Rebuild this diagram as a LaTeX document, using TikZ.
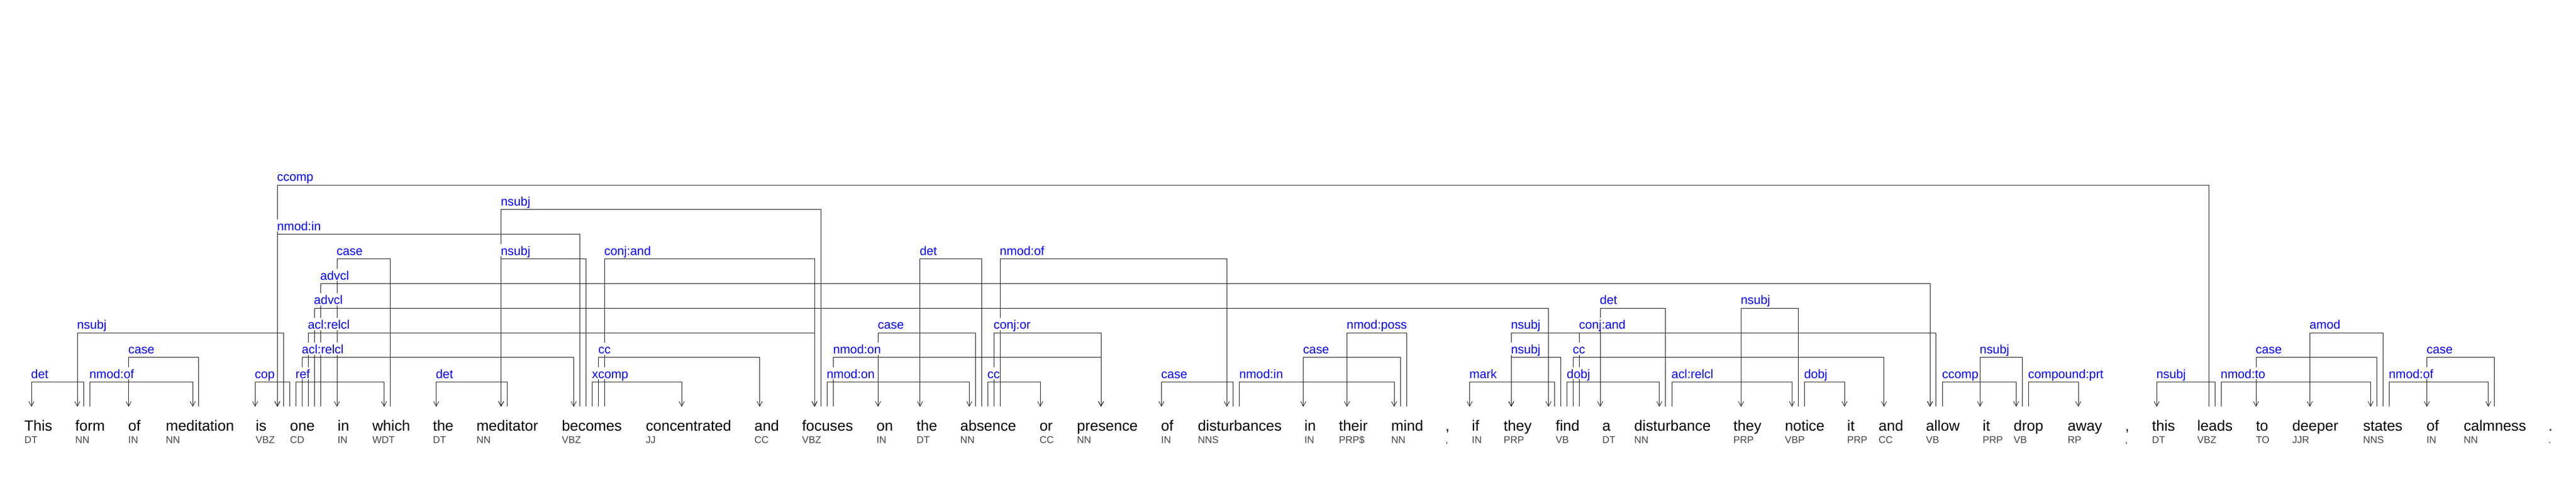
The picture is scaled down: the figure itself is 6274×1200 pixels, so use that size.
\documentclass[tikz,border=0pt]{standalone}
\usepackage{fontspec}
\setmainfont{Liberation Sans}
\usetikzlibrary{arrows.meta}
\pgfdeclarelayer{lbl}
\pgfsetlayers{main,lbl}
\definecolor{posgray}{RGB}{68,68,68}
\definecolor{labblue}{RGB}{0,0,255}
\newcounter{labc}
\tikzset{
  dep/.style={draw=black, line width=0.5pt, -{Straight Barb[length=6pt,width=6.5pt]}},
  lab/.style={anchor=base west, inner xsep=0.5pt, inner ysep=0pt, fill=white, text=labblue,
              text height=13.5pt, text depth=1.25pt, font=\fontsize{15pt}{15pt}\selectfont},
  word/.style={anchor=base west, inner sep=0pt, text=black, font=\fontsize{18pt}{18pt}\selectfont},
  postag/.style={anchor=base west, inner sep=0pt, text=posgray, font=\fontsize{12pt}{12pt}\selectfont}
}
% left point = dependent (arrow at left)
\newcommand\depL[4]{%
  \draw[dep] (#2) |- (#1 |- #3) -- (#1);%
  \stepcounter{labc}%
  \begin{pgfonlayer}{lbl}\path (#1 |- #3) ++(-2,-9) node[lab] (lab\arabic{labc}) {#4};\end{pgfonlayer}}
% left point = head (arrow at right)
\newcommand\depR[4]{%
  \draw[dep] (#1) |- (#2 |- #3) -- (#2);%
  \stepcounter{labc}%
  \begin{pgfonlayer}{lbl}\path (#1 |- #3) ++(-2,-9) node[lab] (lab\arabic{labc}) {#4};\end{pgfonlayer}}
\newcommand\ep[2]{\coordinate (#1) at (#2,990.5);}
\newcommand\wrd[4]{\node[word] (w#1) at (#2,1050) {#3}; \node[postag] (p#1) at (#2,1080) {#4};}
\begin{document}
\begin{tikzpicture}[x=0.5pt,y=-0.5pt]
\fill[white] (0,0) rectangle (6274,1200);
\useasboundingbox (0,0) rectangle (6274,1200);
% levels
\coordinate (L1) at (0,930.5);
\coordinate (L2) at (0,870.5);
\coordinate (L3) at (0,810.5);
\coordinate (L4) at (0,750.5);
\coordinate (L5) at (0,690.5);
\coordinate (L6) at (0,630.5);
\coordinate (L7) at (0,570.5);
\coordinate (L8) at (0,510.5);
\coordinate (L9) at (0,450.5);
% words
\wrd{1}{59}{This}{DT}
\wrd{2}{183}{form}{NN}
\wrd{3}{312}{of}{IN}
\wrd{4}{403.5}{meditation}{NN}
\wrd{5}{622.5}{is}{VBZ}
\wrd{6}{706}{one}{CD}
\wrd{7}{822}{in}{IN}
\wrd{8}{906.5}{which}{WDT}
\wrd{9}{1054}{the}{DT}
\wrd{10}{1160}{meditator}{NN}
\wrd{11}{1368}{becomes}{VBZ}
\wrd{12}{1572.5}{concentrated}{JJ}
\wrd{13}{1837}{and}{CC}
\wrd{14}{1953}{focuses}{VBZ}
\wrd{15}{2134.5}{on}{IN}
\wrd{16}{2232}{the}{DT}
\wrd{17}{2338.5}{absence}{NN}
\wrd{18}{2531.5}{or}{CC}
\wrd{19}{2622.5}{presence}{NN}
\wrd{20}{2827.5}{of}{IN}
\wrd{21}{2917}{disturbances}{NNS}
\wrd{22}{3176.5}{in}{IN}
\wrd{23}{3260.5}{their}{PRP\$}
\wrd{24}{3388}{mind}{NN}
\wrd{25}{3520}{,}{,}
\wrd{26}{3584.5}{if}{IN}
\wrd{27}{3662}{they}{PRP}
\wrd{28}{3788.5}{find}{VB}
\wrd{29}{3902}{a}{DT}
\wrd{30}{3980}{disturbance}{NN}
\wrd{31}{4221.5}{they}{PRP}
\wrd{32}{4347}{notice}{VBP}
\wrd{33}{4498.5}{it}{PRP}
\wrd{34}{4575}{and}{CC}
\wrd{35}{4690.5}{allow}{VB}
\wrd{36}{4828.5}{it}{PRP}
\wrd{37}{4904}{drop}{VB}
\wrd{38}{5035.5}{away}{RP}
\wrd{39}{5175.5}{,}{,}
\wrd{40}{5241}{this}{DT}
\wrd{41}{5351}{leads}{VBZ}
\wrd{42}{5494}{to}{TO}
\wrd{43}{5582.5}{deeper}{JJR}
\wrd{44}{5755}{states}{NNS}
\wrd{45}{5909.5}{of}{IN}
\wrd{46}{6000}{calmness}{NN}
\wrd{47}{6206.5}{.}{.}
% endpoints
\ep{e1a}{76.5}
\ep{e2a}{188.3}\ep{e2b}{203.6}\ep{e2c}{218.4}
\ep{e3a}{313.3}
\ep{e4a}{469.4}\ep{e4b}{484.2}
\ep{e5a}{621.4}
\ep{e6a}{675.5}\ep{e6b}{690.3}\ep{e6c}{705.6}\ep{e6d}{720.4}\ep{e6e}{735.7}\ep{e6f}{750.5}\ep{e6g}{765.3}\ep{e6h}{780.6}
\ep{e7a}{820.6}
\ep{e8a}{935.5}\ep{e8b}{950.1}
\ep{e9a}{1062.4}
\ep{e10a}{1220.5}\ep{e10b}{1235.2}
\ep{e11a}{1397.2}\ep{e11b}{1411.9}\ep{e11c}{1427.2}\ep{e11d}{1442.5}\ep{e11e}{1457.8}\ep{e11f}{1472.4}
\ep{e12a}{1660.3}
\ep{e13a}{1850.3}
\ep{e14a}{1983.8}\ep{e14b}{1998.9}\ep{e14c}{2014.0}\ep{e14d}{2029.6}
\ep{e15a}{2138.5}
\ep{e16a}{2240.8}
\ep{e17a}{2360.7}\ep{e17b}{2375.3}\ep{e17c}{2390.4}\ep{e17d}{2405.5}\ep{e17e}{2420.6}\ep{e17f}{2435.7}
\ep{e18a}{2533.5}
\ep{e19a}{2681.6}
\ep{e20a}{2828.7}
\ep{e21a}{2987.9}\ep{e21b}{3003.5}\ep{e21c}{3018.7}
\ep{e22a}{3174.3}
\ep{e23a}{3280.6}
\ep{e24a}{3395.5}\ep{e24b}{3410.6}\ep{e24c}{3425.7}
\ep{e26a}{3579.4}
\ep{e27a}{3680.7}
\ep{e28a}{3771.4}\ep{e28b}{3786.5}\ep{e28c}{3801.6}\ep{e28d}{3816.7}\ep{e28e}{3831.3}\ep{e28f}{3846.4}
\ep{e29a}{3897.3}
\ep{e30a}{4041.4}\ep{e30b}{4056.5}\ep{e30c}{4071.7}
\ep{e31a}{4240.4}
\ep{e32a}{4364.4}\ep{e32b}{4379.5}\ep{e32c}{4394.6}
\ep{e33a}{4492.3}
\ep{e34a}{4588.6}
\ep{e35a}{4700.4}\ep{e35b}{4715}\ep{e35c}{4730.7}
\ep{e36a}{4822.4}
\ep{e37a}{4910.5}\ep{e37b}{4925.6}\ep{e37c}{4940.3}
\ep{e38a}{5061.7}
\ep{e40a}{5252.6}
\ep{e41a}{5379.6}\ep{e41b}{5394.7}\ep{e41c}{5409.3}
\ep{e42a}{5494.6}
\ep{e43a}{5625.6}
\ep{e44a}{5773.7}\ep{e44b}{5788.3}\ep{e44c}{5803.4}\ep{e44d}{5818.5}
\ep{e45a}{5910.7}
\ep{e46a}{6060.4}\ep{e46b}{6075}
% arcs
\depL{e1a}{e2b}{L1}{det}
\depL{e2a}{e6b}{L3}{nsubj}
\depR{e2c}{e4a}{L1}{nmod:of}
\depL{e3a}{e4b}{L2}{case}
\depL{e5a}{e6c}{L1}{cop}
\depL{e6a}{e41a}{L9}{ccomp}
\depL{e6a}{e11b}{L7}{nmod:in}
\depR{e6d}{e8a}{L1}{ref}
\depR{e6e}{e11a}{L2}{acl:relcl}
\depR{e6f}{e14a}{L3}{acl:relcl}
\depR{e6g}{e28a}{L4}{advcl}
\depR{e6h}{e35a}{L5}{advcl}
\depL{e7a}{e8b}{L6}{case}
\depL{e9a}{e10b}{L1}{det}
\depL{e10a}{e14b}{L8}{nsubj}
\depL{e10a}{e11c}{L6}{nsubj}
\depR{e11d}{e12a}{L1}{xcomp}
\depR{e11e}{e13a}{L2}{cc}
\depR{e11f}{e14a}{L6}{conj:and}
\depR{e14c}{e17a}{L1}{nmod:on}
\depR{e14d}{e19a}{L2}{nmod:on}
\depL{e15a}{e17b}{L3}{case}
\depL{e16a}{e17c}{L6}{det}
\depR{e17d}{e18a}{L1}{cc}
\depR{e17e}{e19a}{L3}{conj:or}
\depR{e17f}{e21a}{L6}{nmod:of}
\depL{e20a}{e21b}{L1}{case}
\depR{e21c}{e24a}{L1}{nmod:in}
\depL{e22a}{e24b}{L2}{case}
\depL{e23a}{e24c}{L3}{nmod:poss}
\depL{e26a}{e28b}{L1}{mark}
\depL{e27a}{e28c}{L2}{nsubj}
\depL{e27a}{e35b}{L3}{nsubj}
\depR{e28d}{e30a}{L1}{dobj}
\depR{e28e}{e34a}{L2}{cc}
\depR{e28f}{e35a}{L3}{conj:and}
\depL{e29a}{e30b}{L4}{det}
\depR{e30c}{e32a}{L1}{acl:relcl}
\depL{e31a}{e32b}{L4}{nsubj}
\depR{e32c}{e33a}{L1}{dobj}
\depR{e35c}{e37a}{L1}{ccomp}
\depL{e36a}{e37b}{L2}{nsubj}
\depR{e37c}{e38a}{L1}{compound:prt}
\depL{e40a}{e41b}{L1}{nsubj}
\depR{e41c}{e44a}{L1}{nmod:to}
\depL{e42a}{e44b}{L2}{case}
\depL{e43a}{e44c}{L3}{amod}
\depR{e44d}{e46a}{L1}{nmod:of}
\depL{e45a}{e46b}{L2}{case}
\end{tikzpicture}
\end{document}
